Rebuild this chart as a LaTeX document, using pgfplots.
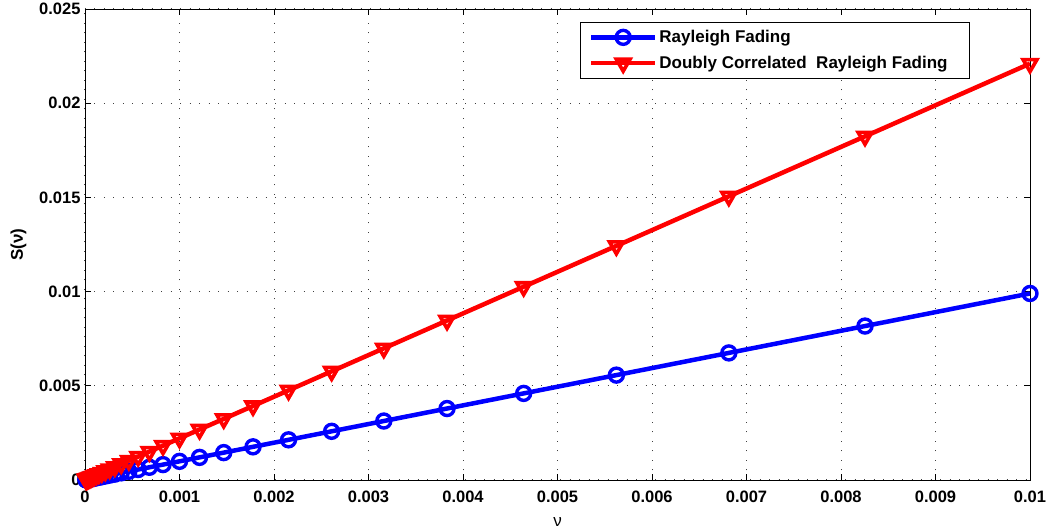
\documentclass[border=0pt]{standalone}
\usepackage{pgfplots}
\pgfplotsset{compat=1.18}
\usepackage{pgfplotstable}
\usepackage{fontspec}
\setmainfont{Liberation Sans}

% nu, Rayleigh, doubly correlated Rayleigh
\pgfplotstableread{
nu        ray        dcr
1.000e-2  9.900e-3   2.2100e-2
8.254e-3  8.171e-3   1.8241e-2
6.813e-3  6.745e-3   1.5057e-2
5.623e-3  5.567e-3   1.2427e-2
4.642e-3  4.596e-3   1.0259e-2
3.831e-3  3.793e-3   8.467e-3
3.162e-3  3.130e-3   6.988e-3
2.610e-3  2.584e-3   5.768e-3
2.154e-3  2.132e-3   4.760e-3
1.778e-3  1.760e-3   3.929e-3
1.468e-3  1.453e-3   3.244e-3
1.212e-3  1.200e-3   2.679e-3
1.000e-3  9.900e-4   2.2100e-3
8.254e-4  8.171e-4   1.8241e-3
6.813e-4  6.745e-4   1.5057e-3
5.623e-4  5.567e-4   1.2427e-3
4.642e-4  4.596e-4   1.0259e-3
3.831e-4  3.793e-4   8.467e-4
3.162e-4  3.130e-4   6.988e-4
2.610e-4  2.584e-4   5.768e-4
2.154e-4  2.132e-4   4.760e-4
1.778e-4  1.760e-4   3.929e-4
1.468e-4  1.453e-4   3.244e-4
1.212e-4  1.200e-4   2.679e-4
1.000e-4  9.900e-5   2.2100e-4
8.254e-5  8.171e-5   1.8241e-4
6.813e-5  6.745e-5   1.5057e-4
5.623e-5  5.567e-5   1.2427e-4
4.642e-5  4.596e-5   1.0259e-4
3.831e-5  3.793e-5   8.467e-5
3.162e-5  3.130e-5   6.988e-5
2.610e-5  2.584e-5   5.768e-5
2.154e-5  2.132e-5   4.760e-5
1.778e-5  1.760e-5   3.929e-5
1.468e-5  1.453e-5   3.244e-5
1.212e-5  1.200e-5   2.679e-5
1.000e-5  9.900e-6   2.2100e-5
}\data

\begin{document}
\begin{tikzpicture}
\begin{axis}[
    name=ax,
    scale only axis,
    width=945pt, height=471pt,
    xmin=0, xmax=0.01,
    ymin=0, ymax=0.025,
    scaled ticks=false,
    xtick={0,0.001,0.002,0.003,0.004,0.005,0.006,0.007,0.008,0.009,0.01},
    xticklabels={0,0.001,0.002,0.003,0.004,0.005,0.006,0.007,0.008,0.009,0.01},
    ytick={0,0.005,0.01,0.015,0.02,0.025},
    yticklabels={0,0.005,0.01,0.015,0.02,0.025},
    tick align=inside,
    tick pos=both,
    major tick length=6pt,
    tick style={black, line width=0.9pt},
    axis line style={black, line width=0.9pt},
    grid=major,
    grid style={black!75, line width=1pt, dash pattern=on 1pt off 8.5pt},
    ticklabel style={font=\fontsize{16.5}{18}\selectfont\bfseries},
    xticklabel style={yshift=-7pt},
    yticklabel style={xshift=-1pt},
    xlabel={\fontsize{17}{19}\selectfont ν},
    ylabel={\fontsize{17}{19}\selectfont\bfseries S(ν)},
    xlabel style={yshift=-8pt},
    ylabel style={yshift=6pt},
    clip mode=individual,
    legend cell align=left,
    legend style={
        at={(0.9365,0.9724)}, anchor=north east,
        draw=black, line width=0.9pt,
        font=\fontsize{17}{19}\selectfont\bfseries,
        inner xsep=8pt, inner ysep=6pt,
        row sep=8pt,
        /tikz/every even column/.append style={column sep=4pt},
    },
    legend image code/.code={
        \draw[mark repeat=2, mark phase=2] plot coordinates {(0pt,0pt) (32pt,0pt) (64pt,0pt)};
    },
]
\addplot[blue, line width=4.5pt, mark=o, mark size=7pt,
    mark options={line width=3.4pt, solid, fill=none}]
    table[x=nu, y=ray] {\data};
\addlegendentry{Rayleigh Fading}
\addplot[red, line width=4.5pt, mark=triangle, mark size=8pt,
    mark options={rotate=180, line width=3.6pt, solid, draw=red, fill=none}]
    table[x=nu, y=dcr] {\data};
\addlegendentry{Doubly Correlated\ \ Rayleigh Fading\hspace*{12pt}}
\end{axis}
\pgfresetboundingbox
\path[use as bounding box] ([shift={(-85pt,-51pt)}]ax.south west) rectangle ([shift={(20pt,9pt)}]ax.north east);
\end{tikzpicture}
\end{document}
